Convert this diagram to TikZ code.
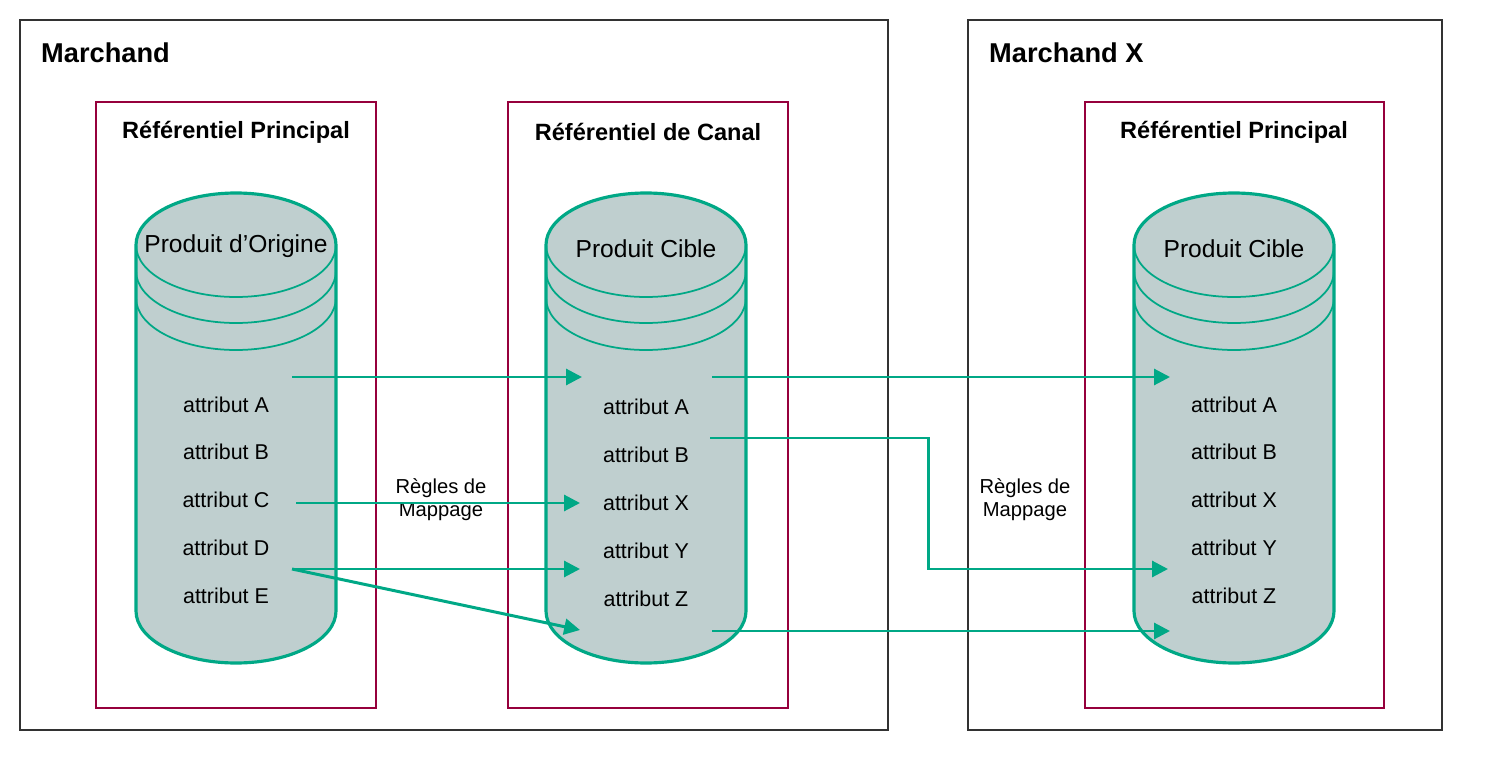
\documentclass[tikz,border=0pt]{standalone}
\usepackage{fontspec}
\setmainfont{Liberation Sans}
\usetikzlibrary{arrows.meta,positioning}
\definecolor{mapgreen}{RGB}{0,168,134}
\definecolor{cylfill}{RGB}{191,207,207}
\definecolor{repred}{RGB}{150,0,60}
\definecolor{boxgray}{RGB}{50,50,50}

% cylinder with three rings: name, centre x
\newcommand{\drawcyl}[2]{%
    \fill[cylfill] (#2-100,245) arc[start angle=180, end angle=360, x radius=100, y radius=52]
        -- (#2+100,611) arc[start angle=0, end angle=180, x radius=100, y radius=52] -- cycle;
    \draw[cylline] (#2-100,245) arc[start angle=180, end angle=360, x radius=100, y radius=52]
        -- (#2+100,611) arc[start angle=0, end angle=180, x radius=100, y radius=52] -- cycle;
    \foreach \yy in {245,271,298}
        \draw[ring] (#2-100,\yy) arc[start angle=180, end angle=0, x radius=100, y radius=52];
    \coordinate (#1) at (#2,428);
}

\begin{document}
\begin{tikzpicture}[x=0.02cm, y=-0.02cm,
        outer/.style={draw=boxgray, line width=1.6pt},
        repo/.style={draw=repred, line width=1.6pt},
        cylline/.style={draw=mapgreen, line width=1.8pt},
        ring/.style={draw=mapgreen, line width=1pt},
        map/.style={-{Triangle[length=9pt,width=9pt]}, draw=mapgreen, line width=1.7pt},
        head/.style={font=\fontsize{15.5}{18}\selectfont\bfseries, anchor=west},
        rtitle/.style={font=\fontsize{13.4}{16}\selectfont\bfseries},
        ptitle/.style={font=\fontsize{14}{16}\selectfont},
        attr/.style={font=\fontsize{12.2}{14}\selectfont},
        rule/.style={font=\fontsize{11.5}{13}\selectfont, align=center}
    ]
    \useasboundingbox (0,0) rectangle (1494,770);

    % Merchants
    \draw[outer] (20,20) rectangle (888,730);
    \draw[outer] (968,20) rectangle (1442,730);
    \node[head] (m1) at (35,53) {Marchand};
    \node[head] (m2) at (983,53) {Marchand X};

    % Repositories
    \draw[repo] (96,102) rectangle (376,708);
    \draw[repo] (508,102) rectangle (788,708);
    \draw[repo] (1085,102) rectangle (1384,708);
    \node[rtitle] (r1) at (236,132) {Référentiel Principal};
    \node[rtitle] (r2) at (648,132) {Référentiel de Canal};
    \node[rtitle] (r3) at (1234,132) {Référentiel Principal};

    % Cylinders
    \drawcyl{cyl1}{236}
    \drawcyl{cyl2}{646}
    \drawcyl{cyl3}{1234}
    \node[ptitle] (p1) at (236,246) {Produit d’Origine};
    \node[ptitle] (p2) at (646,249) {Produit Cible};
    \node[ptitle] (p3) at (1234,249) {Produit Cible};

    % Attributes
    \node[attr] (a1) at (226,405) {attribut A};
    \node[attr] (b1) at (226,452) {attribut B};
    \node[attr] (c1) at (226,500) {attribut C};
    \node[attr] (d1) at (226,548) {attribut D};
    \node[attr] (e1) at (226,596) {attribut E};
    \node[attr] (a2) at (646,407) {attribut A};
    \node[attr] (b2) at (646,455) {attribut B};
    \node[attr] (x2) at (646,503) {attribut X};
    \node[attr] (y2) at (646,551) {attribut Y};
    \node[attr] (z2) at (646,599) {attribut Z};
    \node[attr] (a3) at (1234,405) {attribut A};
    \node[attr] (b3) at (1234,452) {attribut B};
    \node[attr] (x3) at (1234,500) {attribut X};
    \node[attr] (y3) at (1234,548) {attribut Y};
    \node[attr] (z3) at (1234,596) {attribut Z};

    % Rules
    \node[rule] (rule1) at (441,500) {Règles de\\Mappage};
    \node[rule] (rule2) at (1025,500) {Règles de\\Mappage};

    % Connector ends
    \coordinate (s1) at (292,377);  \coordinate (t1) at (582,377);
    \coordinate (s2) at (296,503);  \coordinate (t2) at (580,503);
    \coordinate (s3) at (292,569);  \coordinate (t3) at (580,569);
    \coordinate (t4) at (580,630);
    \coordinate (s5) at (712,377);  \coordinate (t5) at (1170,377);
    \coordinate (s6) at (710,438);  \coordinate (t6) at (1168,569);
    \coordinate (s7) at (712,631);  \coordinate (t7) at (1170,631);

    % Mappings
    \draw[map] (s1) -- (t1);
    \draw[map] (s2) -- (t2);
    \draw[map] (s3) -- (t3);
    \draw[map] (s3) -- (t4);
    \draw[map] (s5) -- (t5);
    \draw[map] (s6) -| (928,569) -- (t6);
    \draw[map] (s7) -- (t7);
\end{tikzpicture}
\end{document}
